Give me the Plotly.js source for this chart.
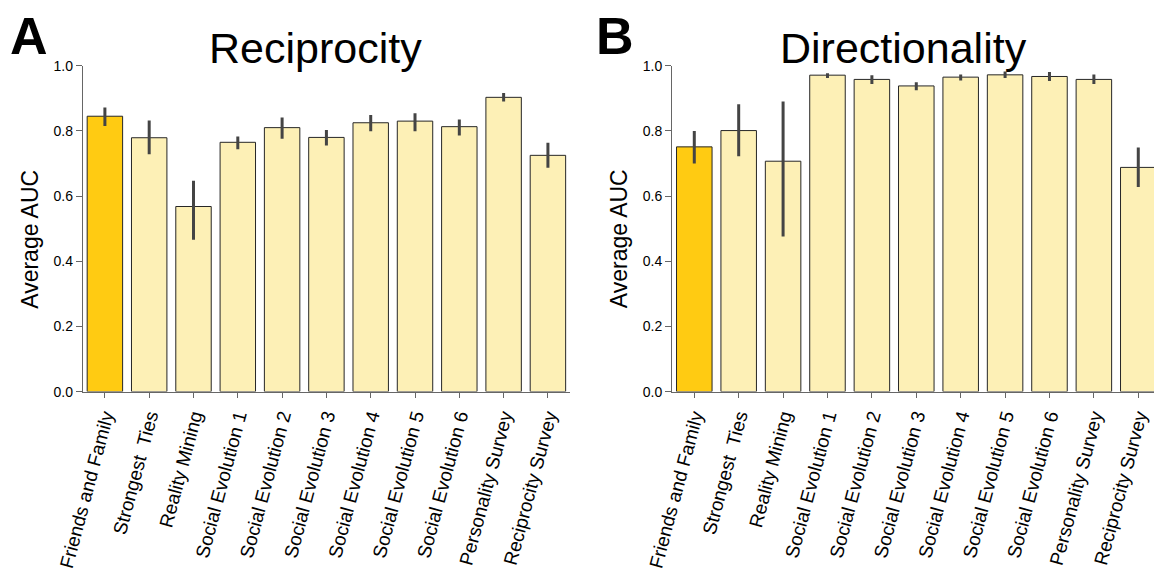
<!DOCTYPE html>
<html>
<head>
<meta charset="utf-8">
<script src="https://cdn.plot.ly/plotly-3.0.1.min.js"></script>
<style>html,body{margin:0;padding:0;background:#fff;overflow:hidden}#chart{width:1154px;height:577px}</style>
</head>
<body>
<div id="chart"></div>
<script>
const categories = ["Friends and Family", "Strongest  Ties", "Reality Mining", "Social Evolution 1", "Social Evolution 2", "Social Evolution 3", "Social Evolution 4", "Social Evolution 5", "Social Evolution 6", "Personality Survey", "Reciprocity Survey"];

const reciprocityAUC  = [0.845, 0.779, 0.568, 0.765, 0.810, 0.780, 0.825, 0.830, 0.813, 0.903, 0.725];
const reciprocityHigh = [0.872, 0.832, 0.647, 0.783, 0.841, 0.803, 0.849, 0.854, 0.835, 0.916, 0.764];
const reciprocityLow  = [0.815, 0.728, 0.466, 0.744, 0.776, 0.755, 0.799, 0.799, 0.786, 0.890, 0.687];

const directionalityAUC  = [0.751, 0.801, 0.707, 0.971, 0.958, 0.938, 0.965, 0.972, 0.967, 0.958, 0.688];
const directionalityHigh = [0.800, 0.882, 0.890, 0.977, 0.971, 0.949, 0.973, 0.982, 0.981, 0.973, 0.749];
const directionalityLow  = [0.700, 0.722, 0.476, 0.962, 0.944, 0.925, 0.955, 0.962, 0.953, 0.944, 0.628];

const yTicks = [0, 0.2, 0.4, 0.6, 0.8, 1.0];
const yTickText = ["0.0", "0.2", "0.4", "0.6", "0.8", "1.0"];
const panelTitles = ["Reciprocity", "Directionality"];
const panelLetters = ["A", "B"];
const yTitle = "Average AUC";

const highlight = "#FFCB12";
const pale = "#FDF0B6";
const colors = categories.map((c, i) => i === 0 ? highlight : pale);
const FONT = "Liberation Sans, Arial, Helvetica, sans-serif";

function barTrace(vals, hi, lo, xa, ya) {
  return {
    type: "bar",
    x: categories.map((c, i) => i),
    y: vals,
    xaxis: xa, yaxis: ya,
    width: 0.8,
    marker: {color: colors, line: {color: "#262626", width: 1}},
    error_y: {
      type: "data", symmetric: false,
      array: hi.map((h, i) => h - vals[i]),
      arrayminus: lo.map((l, i) => vals[i] - l),
      color: "#444444", thickness: 3, width: 0
    },
    hoverinfo: "x+y",
    showlegend: false
  };
}

const data = [
  barTrace(reciprocityAUC, reciprocityHigh, reciprocityLow, "x", "y"),
  barTrace(directionalityAUC, directionalityHigh, directionalityLow, "x2", "y2")
];

const xCommon = {
  tickmode: "array",
  tickvals: categories.map((c, i) => i),
  ticktext: categories,
  tickangle: -75,
  showline: true, linecolor: "#666", linewidth: 1,
  ticks: "outside", ticklen: 5, tickcolor: "#666", tickwidth: 1,
  showgrid: false, zeroline: false,
  tickfont: {family: FONT, size: 19, color: "#000"},
  fixedrange: true
};
const yCommon = {
  range: [0, 1],
  tickmode: "array", tickvals: yTicks, ticktext: yTickText,
  showline: true, linecolor: "#666", linewidth: 1,
  ticks: "outside", ticklen: 6, tickcolor: "#666", tickwidth: 1,
  showgrid: false, zeroline: false,
  tickfont: {family: FONT, size: 14, color: "#000"},
  fixedrange: true
};

function textNote(text, x, y, size, angle) {
  return {text: text, xref: "paper", yref: "paper", x: x, y: y, xanchor: "center", yanchor: "middle",
          showarrow: false, textangle: angle || 0, font: {family: FONT, size: size, color: "#000"}};
}

const layout = {
  width: 1154, height: 577,
  margin: {l: 0, r: 0, t: 0, b: 0},
  paper_bgcolor: "#fff", plot_bgcolor: "#fff",
  bargap: 0.2,
  font: {family: FONT},
  xaxis: Object.assign({}, xCommon, {domain: [0.0717, 0.494], range: [-0.5, 10.5], anchor: "y"}),
  yaxis: Object.assign({}, yCommon, {domain: [0.3213, 0.8861], anchor: "x"}),
  xaxis2: Object.assign({}, xCommon, {domain: [0.5824, 1.0], range: [-0.5, 10.354], anchor: "y2"}),
  yaxis2: Object.assign({}, yCommon, {domain: [0.3213, 0.8861], anchor: "x2"}),
  annotations: [
    textNote(panelTitles[0], 0.2738, 0.917, 43),
    textNote(panelTitles[1], 0.783, 0.917, 43),
    textNote("<b>" + panelLetters[0] + "</b>", 0.0251, 0.937, 52),
    textNote("<b>" + panelLetters[1] + "</b>", 0.533, 0.937, 52),
    textNote(yTitle, 0.0258, 0.5858, 23, -90),
    textNote(yTitle, 0.5366, 0.5858, 23, -90)
  ]
};

Plotly.newPlot("chart", data, layout, {displayModeBar: false, staticPlot: true});
</script>
</body>
</html>
